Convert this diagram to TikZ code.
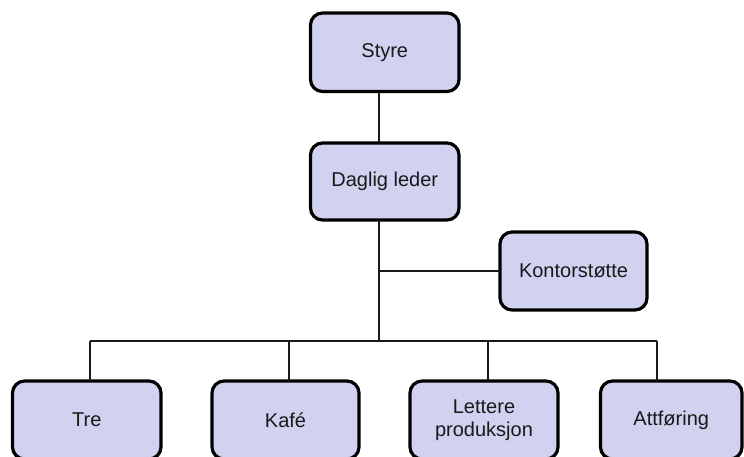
\documentclass[tikz,border=0pt]{standalone}
\usepackage{fontspec}
\setmainfont{Liberation Sans}
\definecolor{boxfill}{RGB}{208,210,240}
\definecolor{txtcol}{RGB}{25,25,25}
\tikzset{
  orgbox/.style={draw=black, line width=3.2pt, fill=boxfill, rounded corners=12pt,
    inner sep=0pt, outer sep=0pt, align=center, text=txtcol,
    font=\fontsize{20}{23}\selectfont},
  conn/.style={draw=black!90, line width=1.8pt}
}
\begin{document}
\begin{tikzpicture}[x=1pt,y=-1pt]
\useasboundingbox (0,0) rectangle (744,456);
\node[orgbox, minimum width=148.5pt, minimum height=78.5pt] (styre) at (384.75,52.25) {Styre};
\node[orgbox, minimum width=148.5pt, minimum height=77pt] (daglig) at (384.75,181.5) {Daglig leder};
\node[orgbox, minimum width=147pt, minimum height=78pt] (kontor) at (573.5,271) {Kontorstøtte};
\node[orgbox, minimum width=148.5pt, minimum height=78pt] (tre) at (86.75,420) {Tre};
\node[orgbox, minimum width=147pt, minimum height=78pt] (kafe) at (285.5,420) {Kafé};
\node[orgbox, minimum width=148pt, minimum height=78pt] (lettere) at (484,420) {Lettere\\produksjon};
\node[orgbox, minimum width=141.5pt, minimum height=78pt] (attf) at (671.25,420) {Attføring};
\coordinate (spine) at (379,0);
\coordinate (bus) at (0,341);
\coordinate (branch) at (0,271);
\coordinate (dtre) at (90,0);
\coordinate (dkafe) at (289,0);
\coordinate (dlett) at (488,0);
\coordinate (dattf) at (657,0);
\begin{scope}[on background layer/.try]
\end{scope}
\draw[conn] (styre.south -| spine) -- (daglig.north -| spine);
\draw[conn] (daglig.south -| spine) -- (spine |- bus);
\draw[conn] (spine |- branch) -- (kontor.west |- branch);
\draw[conn] (dtre |- bus) -- (dattf |- bus);
\draw[conn] (dtre |- bus) -- (tre.north -| dtre);
\draw[conn] (dkafe |- bus) -- (kafe.north -| dkafe);
\draw[conn] (dlett |- bus) -- (lettere.north -| dlett);
\draw[conn] (dattf |- bus) -- (attf.north -| dattf);
\end{tikzpicture}
\end{document}
